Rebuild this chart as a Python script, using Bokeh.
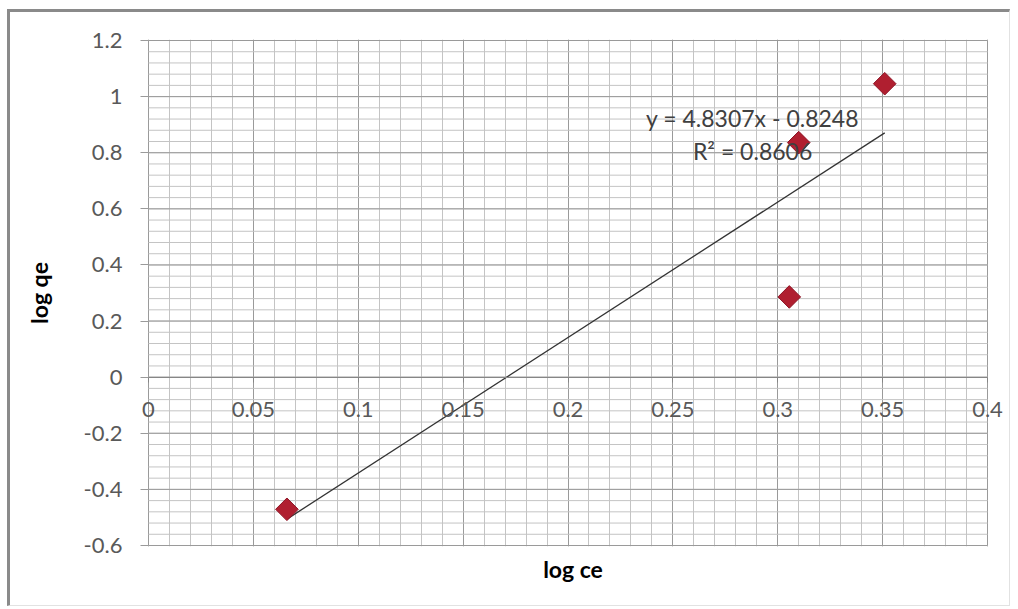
from bokeh.plotting import figure
from bokeh.models import (Range1d, LinearAxis, FixedTicker, Label,
                          ColumnDataSource, InlineStyleSheet)
from bokeh.embed import file_html
from bokeh.resources import INLINE
import numpy as np

# ---- data ----
log_ce = [0.066, 0.3055, 0.310, 0.351]
log_qe = [-0.471, 0.286, 0.836, 1.046]

slope = 4.8307
intercept = -0.8248
r_squared = 0.8606

x_ticks = [0, 0.05, 0.1, 0.15, 0.2, 0.25, 0.3, 0.35, 0.4]
x_tick_labels = ["0", "0.05", "0.1", "0.15", "0.2", "0.25", "0.3", "0.35", "0.4"]
y_ticks = [-0.6, -0.4, -0.2, 0, 0.2, 0.4, 0.6, 0.8, 1, 1.2]
y_tick_labels = ["-0.6", "-0.4", "-0.2", "0", "0.2", "0.4", "0.6", "0.8", "1", "1.2"]

x_label = "log ce"
y_label = "log qe"

FONT = "Lato"
TICK_COLOR = "#595959"
GRID_MAJOR = "#9a9a9a"
GRID_MINOR = "#c4c4c4"

X0, X1 = x_ticks[0], x_ticks[-1]
Y0, Y1 = y_ticks[0], y_ticks[-1]
x_minor = [round(v, 2) for v in np.arange(X0, X1 + 1e-9, 0.01)]
y_minor = [round(v, 2) for v in np.arange(Y0, Y1 + 1e-9, 0.04)]

# layout: plot area 839 x 505 px; frame padded a little so edge labels fit
PX_X = 839 / (X1 - X0)
PX_Y = 505 / (Y1 - Y0)
PAD_L, PAD_R, PAD_TB = 8, 18, 1

p = figure(width=1018, height=609,
           x_range=Range1d(X0 - PAD_L / PX_X, X1 + PAD_R / PX_X),
           y_range=Range1d(Y0 - PAD_TB / PX_Y, Y1 + PAD_TB / PX_Y),
           output_backend="svg", toolbar_location=None,
           min_border_left=140, min_border_right=13,
           min_border_top=39, min_border_bottom=63,
           background_fill_color="white", border_fill_color="white")
p.outline_line_color = None

xt = FixedTicker(ticks=x_ticks, minor_ticks=x_minor)
yt = FixedTicker(ticks=y_ticks, minor_ticks=y_minor)

# ---- horizontal grid limited to the plot area ----
p.ygrid.visible = False
p.segment(x0=X0, x1=X1, y0=y_minor, y1=y_minor, line_color=GRID_MINOR, line_width=1)
p.segment(x0=X0, x1=X1, y0=y_ticks, y1=y_ticks, line_color=GRID_MAJOR, line_width=1)

# ---- vertical grid ----
p.xgrid.ticker = xt
g = p.xgrid[0]
g.grid_line_color = GRID_MAJOR
g.grid_line_width = 1
g.minor_grid_line_color = GRID_MINOR
g.minor_grid_line_width = 1

# default below axis: only carries the title
bx = p.xaxis[0]
bx.ticker = FixedTicker(ticks=[])
bx.axis_label = x_label
bx.axis_label_text_font = FONT
bx.axis_label_text_font_style = "bold"
bx.axis_label_text_font_size = "23px"
bx.axis_label_text_color = "black"
bx.axis_label_standoff = 8
bx.axis_line_color = None
bx.major_tick_line_color = None
bx.minor_tick_line_color = None

# axis line crossing at y = 0
cx = LinearAxis(ticker=xt, fixed_location=0, bounds=(X0, X1))
cx.major_label_text_font_size = "0px"
cx.major_label_text_alpha = 0
cx.axis_line_color = "#868686"
cx.major_tick_line_color = "#868686"
cx.major_tick_out = 5
cx.major_tick_in = 0
cx.minor_tick_line_color = None
p.add_layout(cx, "below")

# x tick labels under the y = 0 axis
for tv, tl in zip(x_ticks, x_tick_labels):
    p.add_layout(Label(x=tv, y=0, text=tl, text_align="center",
                       text_baseline="top", y_offset=-25, text_font=FONT,
                       text_font_size="22px", text_color=TICK_COLOR))

ya = p.yaxis[0]
ya.ticker = yt
ya.major_label_overrides = {t: l for t, l in zip(y_ticks, y_tick_labels)}
ya.major_label_text_font = FONT
ya.major_label_text_font_size = "22px"
ya.major_label_text_color = TICK_COLOR
ya.major_label_standoff = 14
ya.major_tick_out = 0
ya.major_tick_in = PAD_L
ya.major_tick_line_color = GRID_MAJOR
ya.minor_tick_line_color = None
ya.axis_line_color = None
ya.axis_label = y_label
ya.axis_label_text_font = FONT
ya.axis_label_text_font_style = "bold"
ya.axis_label_text_font_size = "23px"
ya.axis_label_text_color = "black"
ya.axis_label_standoff = 28

# trendline from the fitted equation over the data span
tx = [min(log_ce), max(log_ce)]
ty = [slope * v + intercept for v in tx]
p.line(tx, ty, line_color="#333333", line_width=1.3)

src = ColumnDataSource(dict(x=log_ce, y=log_qe))
p.scatter("x", "y", source=src, marker="square", angle=np.pi / 4, size=16,
          fill_color="#B01F30", line_color="#8E1526", line_width=1)

eq_text = "y = %.4fx - %.4f" % (slope, -intercept)
r2_text = "R\u00b2 = %.4f" % r_squared
p.add_layout(Label(x=0.288, y=0.925, text=eq_text, text_align="center",
                   text_baseline="middle", text_font=FONT,
                   text_font_size="23px", text_color="#404040"))
p.add_layout(Label(x=0.288, y=0.807, text=r2_text, text_align="center",
                   text_baseline="middle", text_font=FONT,
                   text_font_size="23px", text_color="#404040"))

# chart-area border (Excel chart frame)
p.stylesheets = [InlineStyleSheet(css="""
:host { position: relative; }
:host::after {
  content: ""; position: absolute; left: 7px; top: 9px;
  width: 1003px; height: 597px; box-sizing: border-box;
  border-top: 3px solid #8a8a8a; border-left: 3px solid #8a8a8a;
  border-right: 1px solid #e2e2e2; border-bottom: 1px solid #e2e2e2;
  pointer-events: none;
}
""")]

open("out.html", "w").write(file_html(p, INLINE))
